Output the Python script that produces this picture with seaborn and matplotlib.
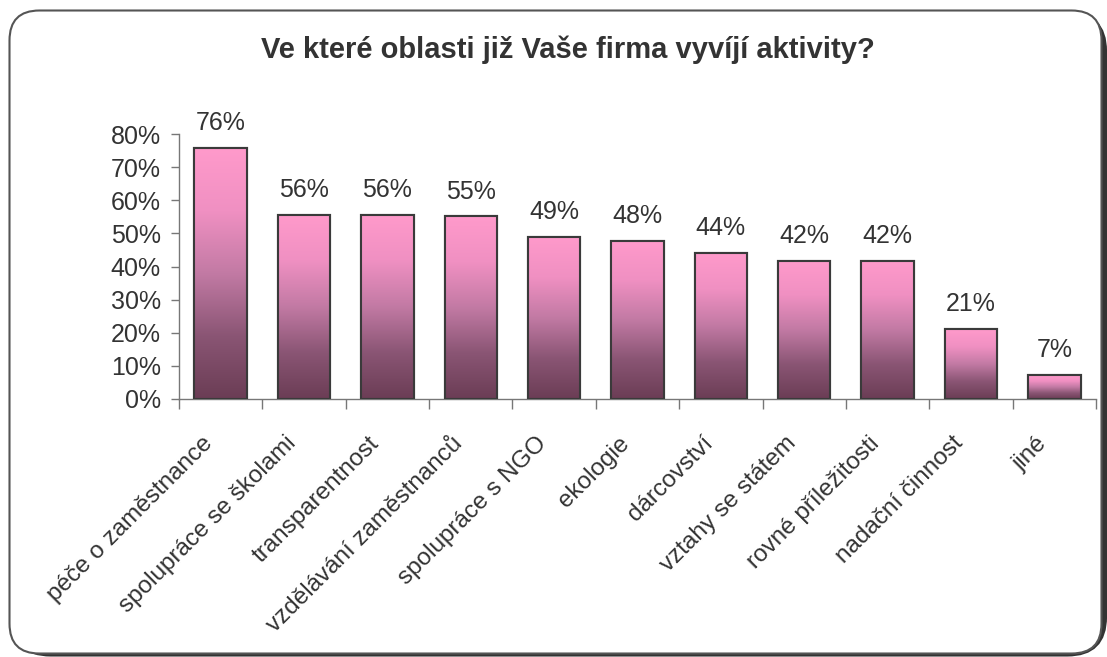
import numpy as np
import pandas as pd
import matplotlib
matplotlib.use("Agg")
import matplotlib.pyplot as plt
import matplotlib.transforms as mtransforms
import seaborn as sns
from matplotlib.colors import LinearSegmentedColormap
from matplotlib.patches import FancyBboxPatch
from matplotlib.ticker import FixedLocator, PercentFormatter

# ---- data ----
categories = ["péče o zaměstnance", "spolupráce se školami", "transparentnost",
              "vzdělávání zaměstnanců", "spolupráce s NGO", "ekologie", "dárcovství",
              "vztahy se státem", "rovné příležitosti", "nadační činnost", "jiné"]
values = [75.7, 55.6, 55.6, 55.1, 49.0, 47.8, 44.2, 41.7, 41.7, 21.1, 7.2]
title = "Ve které oblasti již Vaše firma vyvíjí aktivity?"
y_ticks = [0, 10, 20, 30, 40, 50, 60, 70, 80]

df = pd.DataFrame({"cat": categories, "val": values})

sns.set_theme(style="white")
plt.rcParams["font.family"] = ["Liberation Sans", "DejaVu Sans"]

W, H = 1107, 657
fig = plt.figure(figsize=(W / 100, H / 100), dpi=100)
fig.patch.set_facecolor("white")

# rounded frame with shadow
shadow = FancyBboxPatch((12 / W, 1.5 / H), (1094 / W), (643 / H),
                        boxstyle="round,pad=0,rounding_size=0.035",
                        transform=fig.transFigure, facecolor="#333333",
                        edgecolor="#333333", lw=1.5, zorder=-2,
                        mutation_aspect=W / H)
frame = FancyBboxPatch((9.5 / W, 3.5 / H), (1092 / W), (643 / H),
                       boxstyle="round,pad=0,rounding_size=0.027",
                       transform=fig.transFigure, facecolor="white",
                       edgecolor="#555555", lw=1.5, zorder=-1,
                       mutation_aspect=W / H)
fig.patches.extend([shadow, frame])

ax = fig.add_axes([179 / W, (H - 399) / H, (1096 - 179) / W, (399 - 134) / H])
ax.set_facecolor("none")
ax.set_zorder(2)

sns.barplot(data=df, x="cat", y="val", ax=ax, width=0.63,
            color="#f995c8", edgecolor="#3a3a3a", linewidth=1.5,
            saturation=1, zorder=2)

cmap = LinearSegmentedColormap.from_list(
    "pinkgrad", ["#6b3d55", "#8a5574", "#c27aa4", "#f090c2", "#ff9acb"])
grad = np.linspace(0, 1, 256).reshape(-1, 1)
for p in list(ax.patches):
    x0, y0 = p.get_x(), p.get_y()
    w, h = p.get_width(), p.get_height()
    im = ax.imshow(grad, cmap=cmap, origin="lower", aspect="auto",
                   extent=[x0, x0 + w, y0, y0 + h], zorder=2.5)
    im.set_clip_path(p)
    ax.add_patch(plt.Rectangle((x0, y0), w, h, fill=False,
                               edgecolor="#3a3a3a", lw=1.5, zorder=3))

for i, v in enumerate(values):
    ax.text(i, v + 7.5, f"{round(v)}%", ha="center", va="center",
            fontsize=18, color="#333333")

ax.set_xlim(-0.5, len(categories) - 0.5)
ax.set_ylim(0, 80)
ax.yaxis.set_major_locator(FixedLocator(y_ticks))
ax.yaxis.set_major_formatter(PercentFormatter(decimals=0))
ax.set_xlabel("")
ax.set_ylabel("")

for s in ["top", "right"]:
    ax.spines[s].set_visible(False)
for s in ["left", "bottom"]:
    ax.spines[s].set_color("#777777")
    ax.spines[s].set_linewidth(1.0)

ax.tick_params(axis="y", which="major", left=True, length=6, width=1,
               color="#777777", labelsize=18, labelcolor="#333333", pad=7)
ax.set_xticks(range(len(categories)))
ax.set_xticklabels(categories, rotation=45, ha="right",
                   rotation_mode="anchor", fontsize=17.5, color="#333333")
ax.tick_params(axis="x", which="major", length=0, pad=24)
ax.set_xticks(np.arange(-0.5, len(categories), 1.0), minor=True)
ax.tick_params(axis="x", which="minor", bottom=True, length=7, width=1,
               color="#777777")
shift = mtransforms.ScaledTranslation(-19 / 100, 0, fig.dpi_scale_trans)
for lbl in ax.get_xticklabels():
    lbl.set_transform(lbl.get_transform() + shift)

fig.text(568 / W, (H - 50) / H, title, ha="center", va="center",
         fontsize=21, fontweight="bold", color="#333333")

fig.savefig("out.png", dpi=100, facecolor="white")
